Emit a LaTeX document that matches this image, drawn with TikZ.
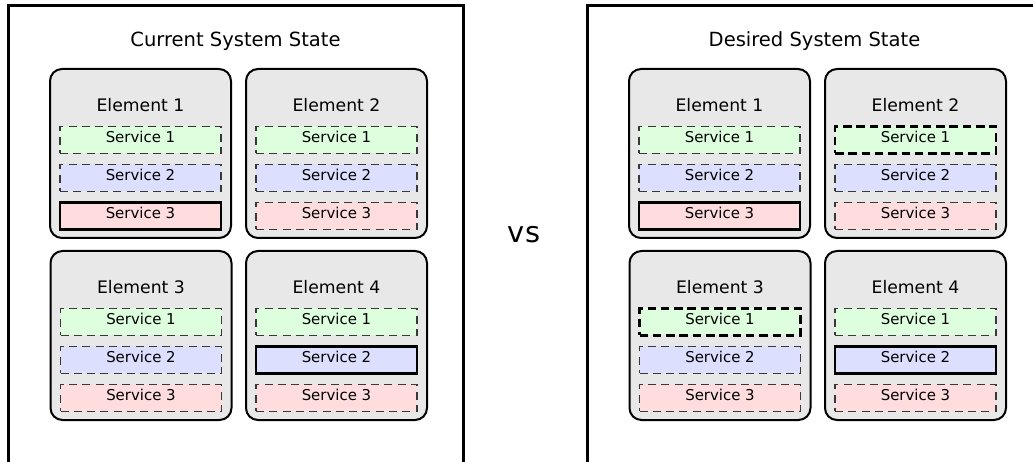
\documentclass[tikz,border=0pt]{standalone}
\usepackage{fontspec}
\setmainfont{DejaVu Sans}
\usetikzlibrary{calc}

\definecolor{elemfill}{HTML}{E8E8E8}
\definecolor{svcgreen}{HTML}{DDFFDD}
\definecolor{svcblue}{HTML}{DDDFFF}
\definecolor{svcred}{HTML}{FFDDDF}
\definecolor{dashgray}{HTML}{383838}

\tikzset{
  panel/.style={line width=3bp, draw=black},
  elembox/.style={draw=black, line width=2bp, fill=elemfill, rounded corners=12bp,
    minimum width=181bp, minimum height=169bp, inner sep=0pt, outer sep=0pt,
    anchor=north west},
  elemlabel/.style={font=\fontsize{17.3}{20}\selectfont, anchor=base, inner sep=0pt},
  titlelabel/.style={font=\fontsize{19.6}{23}\selectfont, anchor=base, inner sep=0pt},
  vslabel/.style={font=\fontsize{29}{33}\selectfont, anchor=base, inner sep=0pt},
  service/.style={minimum width=161bp, minimum height=27bp, inner sep=0pt, outer sep=0pt,
    text height=11bp, text depth=5bp, anchor=north west,
    font=\fontsize{15}{18}\selectfont},
  sone/.style={fill=svcgreen},
  stwo/.style={fill=svcblue},
  sthree/.style={fill=svcred},
  plain/.style={draw=dashgray, line width=1.4bp, dash pattern=on 8bp off 5.3bp},
  kept/.style={draw=black, line width=2.6bp},
  moved/.style={draw=black, line width=2.8bp, dash pattern=on 8.5bp off 4.8bp},
}

% #1 name, #2 x, #3 y (top left), #4 label, #5-#7 border style of services 1-3
\newcommand{\elementbox}[7]{%
  \node[elembox] (#1) at (#2,#3) {};
  \node[elemlabel] (#1-label) at ($(#1.north west)+(90.5,43)$) {#4};
  \node[service,sone,#5] (#1-s1) at ($(#1.north west)+(10,57.5)$) {Service 1};
  \node[service,stwo,#6] (#1-s2) at ($(#1.north west)+(10,95.5)$) {Service 2};
  \node[service,sthree,#7] (#1-s3) at ($(#1.north west)+(10,133.5)$) {Service 3};
}

\begin{document}
\begin{tikzpicture}[x=1bp,y=-1bp]
  \useasboundingbox (0,0) rectangle (1033,462);
  \clip (0,0) rectangle (1033,462);

  % left panel: current state
  \draw[panel] (8,480) -- (8,6) -- (463,6) -- (463,480);
  \node[titlelabel] (cur-title) at (235.5,46.7) {Current System State};
  \elementbox{cur1}{50}{69}{Element 1}{plain}{plain}{kept}
  \elementbox{cur2}{246}{69}{Element 2}{plain}{plain}{plain}
  \elementbox{cur3}{50.5}{251}{Element 3}{plain}{plain}{plain}
  \elementbox{cur4}{246}{251}{Element 4}{plain}{kept}{plain}

  % separator text
  \node[vslabel] (vs) at (524,242.7) {vs};

  % right panel: desired state
  \draw[panel] (587,480) -- (587,6) -- (1042,6) -- (1042,480);
  \node[titlelabel] (des-title) at (814.5,46.7) {Desired System State};
  \elementbox{des1}{629}{69}{Element 1}{plain}{plain}{kept}
  \elementbox{des2}{825}{69}{Element 2}{moved}{plain}{plain}
  \elementbox{des3}{629.5}{251}{Element 3}{moved}{plain}{plain}
  \elementbox{des4}{825}{251}{Element 4}{plain}{kept}{plain}
\end{tikzpicture}
\end{document}
